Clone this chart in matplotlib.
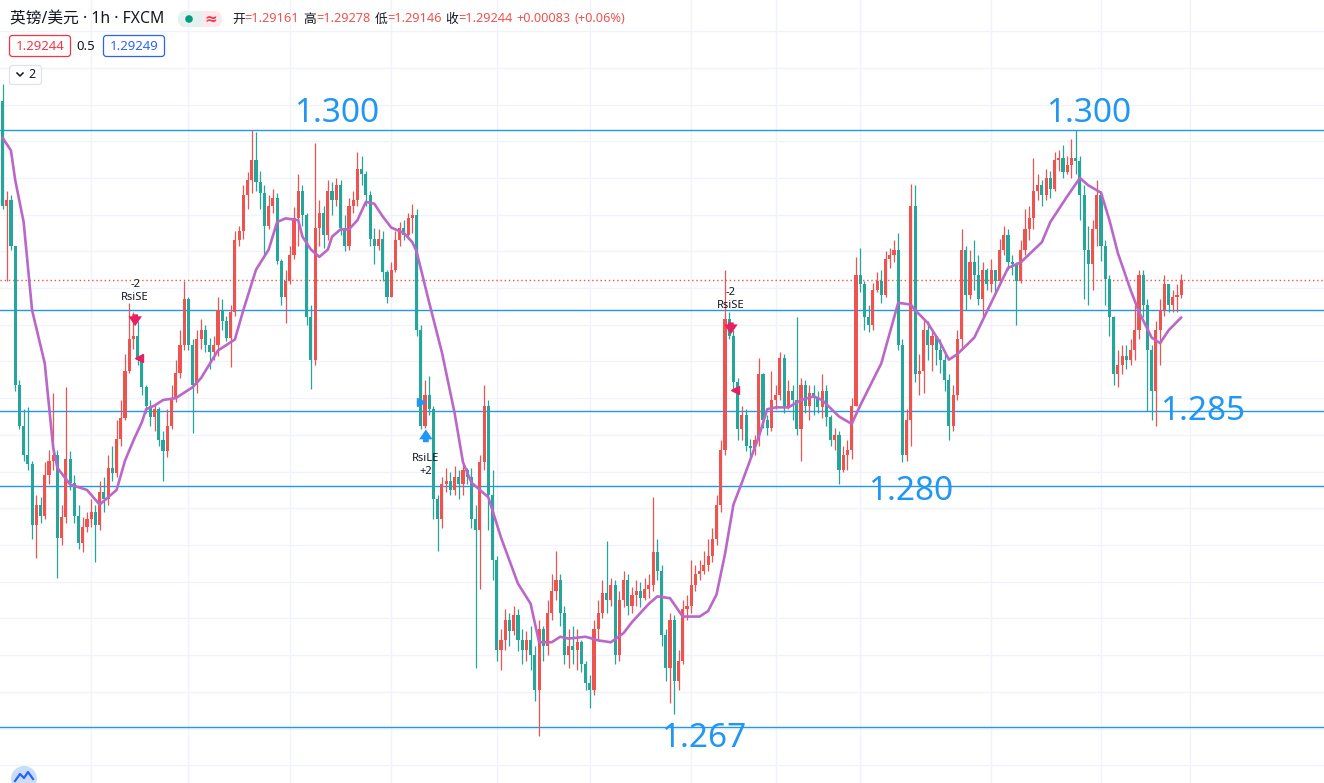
import numpy as np
import matplotlib.pyplot as plt
from matplotlib.patches import FancyBboxPatch, Circle, Rectangle

W, H = 1324, 783
CJK = ['Noto Sans CJK SC', 'DejaVu Sans']
LATIN_FIRST = ['Noto Sans', 'Noto Sans CJK SC', 'DejaVu Sans']
plt.rcParams['font.family'] = CJK

# GBP/USD 1h bars, prices in pips (1e-4) above 1.0000, e.g. 2924 -> 1.2924
open_first = 3022
close_pips = [
    2965, 2968, 2943, 2867, 2845, 2829, 2824, 2791, 2802, 2796,
    2818, 2826, 2829, 2784, 2795, 2827, 2814, 2796, 2781, 2790,
    2794, 2798, 2791, 2809, 2805, 2822, 2819, 2838, 2849, 2875,
    2892, 2894, 2881, 2866, 2856, 2850, 2854, 2837, 2831, 2845,
    2860, 2874, 2889, 2914, 2889, 2867, 2892, 2897, 2889, 2885,
    2889, 2908, 2902, 2893, 2907, 2946, 2951, 2971, 2979, 2990,
    2978, 2972, 2954, 2965, 2969, 2935, 2915, 2924, 2938, 2958,
    2973, 2960, 2904, 2881, 2953, 2961, 2949, 2973, 2968, 2976,
    2953, 2943, 2965, 2968, 2985, 2982, 2971, 2947, 2943, 2947,
    2929, 2915, 2930, 2946, 2953, 2949, 2958, 2960, 2897, 2845,
    2862, 2854, 2805, 2794, 2813, 2815, 2810, 2817, 2813, 2821,
    2817, 2794, 2788, 2825, 2856, 2807, 2772, 2723, 2728, 2739,
    2733, 2742, 2728, 2723, 2728, 2720, 2701, 2734, 2725, 2743,
    2755, 2761, 2743, 2720, 2725, 2723, 2727, 2715, 2705, 2701,
    2734, 2743, 2754, 2750, 2758, 2720, 2750, 2761, 2747, 2753,
    2755, 2751, 2756, 2758, 2776, 2766, 2731, 2713, 2739, 2706,
    2717, 2745, 2747, 2758, 2764, 2766, 2769, 2774, 2783, 2802,
    2832, 2903, 2894, 2869, 2843, 2851, 2834, 2833, 2837, 2873,
    2848, 2844, 2859, 2862, 2882, 2856, 2864, 2859, 2843, 2867,
    2856, 2863, 2860, 2855, 2864, 2850, 2837, 2840, 2821, 2829,
    2832, 2856, 2927, 2922, 2904, 2900, 2919, 2924, 2916, 2936,
    2938, 2941, 2889, 2829, 2848, 2965, 2873, 2875, 2897, 2889,
    2894, 2886, 2881, 2870, 2845, 2862, 2892, 2941, 2916, 2934,
    2927, 2914, 2930, 2922, 2930, 2924, 2941, 2949, 2934, 2933,
    2924, 2941, 2952, 2958, 2973, 2976, 2971, 2980, 2974, 2990,
    2991, 2983, 2987, 2991, 2989, 2971, 2941, 2933, 2952, 2971,
    2943, 2925, 2904, 2873, 2878, 2883, 2881, 2886, 2897, 2927,
    2911, 2886, 2864, 2897, 2908, 2922, 2911, 2915, 2916.1, 2924.4,
]
high_pips = [
    3031, 2973, 2971, 2943, 2870, 2854, 2855, 2826, 2807, 2806,
    2825, 2832, 2863, 2832, 2802, 2866, 2831, 2818, 2802, 2795,
    2798, 2805, 2802, 2815, 2817, 2829, 2834, 2848, 2859, 2884,
    2912, 2907, 2902, 2884, 2867, 2859, 2857, 2855, 2842, 2854,
    2867, 2881, 2897, 2924, 2915, 2892, 2897, 2903, 2900, 2893,
    2894, 2915, 2914, 2905, 2911, 2951, 2954, 2976, 2983, 3006,
    3005, 2984, 2976, 2971, 2974, 2972, 2936, 2930, 2943, 2964,
    2982, 2976, 2961, 2911, 2999, 2968, 2965, 2979, 2978, 2980,
    2979, 2960, 2969, 2973, 2994, 2992, 2984, 2973, 2953, 2952,
    2951, 2930, 2934, 2951, 2956, 2957, 2961, 2966, 2963, 2900,
    2870, 2872, 2856, 2807, 2817, 2822, 2820, 2823, 2821, 2824,
    2822, 2822, 2802, 2829, 2867, 2859, 2821, 2774, 2734, 2745,
    2743, 2747, 2745, 2734, 2733, 2736, 2725, 2739, 2736, 2750,
    2764, 2777, 2764, 2747, 2734, 2736, 2734, 2728, 2717, 2709,
    2739, 2750, 2761, 2782, 2762, 2761, 2755, 2766, 2764, 2757,
    2761, 2760, 2762, 2764, 2806, 2783, 2769, 2734, 2743, 2742,
    2723, 2750, 2753, 2772, 2769, 2772, 2777, 2783, 2789, 2807,
    2837, 2930, 2907, 2897, 2871, 2856, 2854, 2838, 2840, 2882,
    2874, 2851, 2875, 2867, 2885, 2884, 2870, 2867, 2904, 2871,
    2870, 2867, 2867, 2864, 2873, 2867, 2851, 2844, 2842, 2834,
    2837, 2860, 2937, 2942, 2924, 2911, 2923, 2929, 2930, 2940,
    2942, 2946, 2950, 2892, 2854, 2977, 2976, 2884, 2903, 2902,
    2897, 2894, 2892, 2884, 2873, 2867, 2897, 2952, 2943, 2941,
    2946, 2938, 2934, 2931, 2936, 2930, 2947, 2954, 2952, 2938,
    2934, 2946, 2963, 2965, 2991, 2982, 2979, 2985, 2984, 2994,
    2995, 2998, 2992, 3001, 3006, 2992, 2976, 2954, 2957, 2979,
    2973, 2946, 2927, 2905, 2886, 2889, 2889, 2892, 2911, 2930,
    2930, 2914, 2889, 2902, 2914, 2927, 2922, 2919, 2922, 2927.8,
]
low_pips = [
    2963, 2924, 2941, 2864, 2843, 2826, 2821, 2783, 2773, 2792,
    2794, 2813, 2821, 2762, 2780, 2792, 2810, 2792, 2778, 2776,
    2787, 2790, 2771, 2788, 2798, 2802, 2815, 2817, 2834, 2848,
    2874, 2887, 2878, 2862, 2852, 2845, 2842, 2834, 2815, 2828,
    2843, 2858, 2871, 2886, 2886, 2841, 2863, 2887, 2885, 2876,
    2881, 2883, 2897, 2891, 2877, 2905, 2943, 2947, 2963, 2972,
    2973, 2963, 2938, 2952, 2961, 2933, 2911, 2901, 2922, 2936,
    2943, 2954, 2900, 2865, 2878, 2943, 2942, 2946, 2960, 2965,
    2949, 2940, 2941, 2961, 2965, 2976, 2965, 2943, 2933, 2941,
    2924, 2912, 2915, 2929, 2943, 2946, 2947, 2950, 2894, 2843,
    2844, 2851, 2794, 2777, 2789, 2809, 2807, 2807, 2805, 2807,
    2813, 2789, 2713, 2756, 2821, 2788, 2761, 2717, 2712, 2723,
    2725, 2731, 2722, 2715, 2717, 2712, 2695, 2676, 2717, 2720,
    2739, 2750, 2736, 2715, 2713, 2715, 2712, 2711, 2701, 2691,
    2698, 2728, 2740, 2743, 2747, 2715, 2717, 2746, 2742, 2743,
    2747, 2746, 2750, 2751, 2755, 2761, 2725, 2706, 2694, 2688,
    2701, 2715, 2739, 2743, 2755, 2761, 2764, 2766, 2771, 2780,
    2798, 2829, 2892, 2864, 2837, 2837, 2831, 2828, 2829, 2834,
    2844, 2840, 2842, 2854, 2859, 2852, 2854, 2848, 2840, 2826,
    2852, 2848, 2851, 2852, 2849, 2845, 2834, 2832, 2813, 2820,
    2821, 2827, 2856, 2918, 2897, 2896, 2897, 2918, 2912, 2915,
    2931, 2934, 2886, 2825, 2826, 2834, 2869, 2862, 2863, 2881,
    2875, 2878, 2874, 2864, 2837, 2842, 2859, 2886, 2908, 2914,
    2919, 2911, 2905, 2919, 2918, 2916, 2922, 2938, 2930, 2927,
    2900, 2923, 2938, 2946, 2952, 2968, 2965, 2968, 2969, 2973,
    2984, 2980, 2982, 2980, 2982, 2957, 2914, 2911, 2919, 2943,
    2935, 2911, 2894, 2867, 2866, 2873, 2876, 2878, 2881, 2892,
    2904, 2853, 2848, 2845, 2878, 2905, 2907, 2907, 2907, 2914.6,
]

# purple moving average at selected bars
ma_bars = [0, 2, 3, 5, 7, 10, 12, 13, 16, 20, 23, 25, 27, 29, 31, 33, 34, 36, 38, 41,
           45, 47, 51, 55, 57, 60, 63, 65, 67, 70, 71, 73, 75, 77, 78, 80, 82, 84, 86, 88,
           90, 92, 95, 97, 98, 101, 104, 107, 109, 111, 115, 118, 122, 125, 127, 130, 132,
           134, 138, 141, 144, 147, 149, 153, 155, 158, 161, 165, 167, 169, 171, 173, 175,
           179, 181, 183, 186, 189, 192, 194, 198, 201, 203, 208, 212, 215, 216, 219, 222,
           224, 226, 230, 234, 238, 241, 246, 248, 252, 255, 257, 260, 262, 264, 267, 269,
           272, 274, 276, 279]
ma_pips = [3002, 2995, 2979, 2956, 2908, 2879, 2833, 2822, 2813, 2810, 2802, 2806, 2810,
           2826, 2837, 2847, 2854, 2856, 2859, 2860, 2866, 2871, 2886, 2892, 2908, 2930,
           2941, 2956, 2958, 2957, 2948, 2941, 2937, 2941, 2948, 2952, 2952, 2957, 2967,
           2966, 2959, 2953, 2950, 2945, 2940, 2912, 2885, 2852, 2825, 2814, 2806, 2784,
           2759, 2748, 2727, 2727, 2730, 2729, 2730, 2728, 2727, 2732, 2738, 2748, 2752,
           2751, 2741, 2741, 2744, 2753, 2775, 2802, 2814, 2839, 2854, 2855, 2855, 2859,
           2861, 2859, 2850, 2846, 2856, 2879, 2912, 2911, 2908, 2901, 2890, 2881, 2884,
           2893, 2912, 2931, 2934, 2945, 2956, 2970, 2980, 2976, 2972, 2957, 2939, 2919,
           2907, 2893, 2890, 2897, 2904]

levels = [1.30061, 1.29081, 1.28530, 1.28121, 1.26808]
level_labels = [('1.300', 79, 1.30154), ('1.300', 257, 1.30154), ('1.285', 284, 1.28525),
                ('1.280', 215, 1.28094), ('1.267', 166, 1.26748)]
grid_bars = [21, 44, 68, 92, 117, 139, 163, 183, 203, 234, 260, 281]

legend_vals = [('开', '=1.29161'), ('高', '=1.29278'), ('低', '=1.29146'),
               ('收', '=1.29244'), ('', '+0.00083'), ('', '(+0.06%)')]

UP, DOWN = '#EF5350', '#26A69A'
BLUE = '#2196F3'
SIGNAL_RED = '#E91E63'
ARROW = 'simple,head_width=0.75,head_length=0.55,tail_width=0.32'

close = 1 + np.array(close_pips) / 1e4
high = 1 + np.array(high_pips) / 1e4
low = 1 + np.array(low_pips) / 1e4
opens = np.r_[1 + open_first / 1e4, close[:-1]]
bars = np.arange(len(close))
colors = np.where(close >= opens, UP, DOWN)

fig = plt.figure(figsize=(W / 100, H / 100), dpi=100)
ax = fig.add_axes([0, 0, 1, 1])
ax.set_xlim(-2.5 / 4.225, (W - 2.5) / 4.225)
ax.set_ylim(1.26503, 1.30770)
ax.axis('off')

for g in np.arange(1.266, 1.308, 0.002):
    ax.axhline(g, color='#F0F3FA', lw=1, zorder=0)
for g in grid_bars:
    ax.axvline(g, color='#F0F3FA', lw=1, zorder=0)

for lv in levels:
    ax.axhline(lv, color=BLUE, lw=1.0, zorder=1)
ax.axhline(close[-1], color=UP, lw=1, ls=(0, (1, 2)), zorder=1)

ax.vlines(bars, low, high, colors=colors, lw=0.9, zorder=2)
body = np.maximum(np.abs(close - opens), 0.00002)
ax.bar(bars, body, bottom=np.minimum(close, opens), width=0.74, color=colors,
       linewidth=0, zorder=3)

ax.plot(ma_bars, 1 + np.array(ma_pips) / 1e4, color='#BA68C8', lw=1.9, zorder=4,
        solid_joinstyle='round', solid_capstyle='round')

for txt, b, p in level_labels:
    ax.text(b, p, txt, color=BLUE, fontsize=24, ha='center', va='center',
            family=['Noto Sans', 'DejaVu Sans'], zorder=5)


# strategy signals
def short_signal(b, top):
    ax.text(b, top, '-2', fontsize=8, ha='center', va='center', color='#131722', zorder=6,
            family=LATIN_FIRST)
    ax.text(b, top - 0.00072, 'RsiSE', fontsize=8, ha='center', va='center', color='#131722',
            zorder=6, family=LATIN_FIRST)
    ax.annotate('', xy=(b, top - 0.00245), xytext=(b, top - 0.00150),
                arrowprops=dict(arrowstyle=ARROW, color=SIGNAL_RED, lw=0, mutation_scale=13),
                zorder=6)


short_signal(31.4, 1.29222)
ax.plot(32.4, 1.28819, marker='<', color=SIGNAL_RED, ms=5.5, zorder=6)
short_signal(172.4, 1.29178)
ax.plot(173.4, 1.28644, marker='<', color=SIGNAL_RED, ms=5.5, zorder=6)

ax.plot(99.1, 1.28580, marker='>', color=BLUE, ms=5.5, zorder=6)
ax.annotate('', xy=(100.2, 1.28445), xytext=(100.2, 1.28345),
            arrowprops=dict(arrowstyle=ARROW, color=BLUE, lw=0, mutation_scale=13), zorder=6)
ax.text(100.2, 1.28274, 'RsiLE', fontsize=8, ha='center', va='center', color='#131722',
        zorder=6, family=LATIN_FIRST)
ax.text(100.2, 1.28198, '+2', fontsize=8, ha='center', va='center', color='#131722',
        zorder=6, family=LATIN_FIRST)

# header overlay in pixel coordinates
ov = fig.add_axes([0, 0, 1, 1], facecolor='none')
ov.set_xlim(0, W)
ov.set_ylim(H, 0)
ov.axis('off')

ov.text(10, 19, '英镑/美元 · 1h · FXCM', fontsize=11.3, color='#131722', va='center',
        family=LATIN_FIRST)
ov.add_patch(FancyBboxPatch((178, 11), 44, 16, boxstyle='round,pad=0,rounding_size=8',
                            fc='#FDE8EC', ec='none'))
ov.add_patch(FancyBboxPatch((178, 11), 24, 16, boxstyle='round,pad=0,rounding_size=8',
                            fc='#E3F2EF', ec='none'))
ov.add_patch(Rectangle((194, 11), 8, 16, fc='#E3F2EF', ec='none'))
ov.add_patch(Circle((189, 19), 3.8, fc='#089981', ec='none'))
ov.text(211, 19, '≈', fontsize=11, color='#F23645', ha='center', va='center',
        family=['DejaVu Sans'], fontweight='bold')

fig.canvas.draw()
renderer = fig.canvas.get_renderer()
x = 232
for lab, val in legend_vals:
    for s, c in ((lab, '#131722'), (val, UP)):
        if not s:
            continue
        t = ov.text(x, 19, s, fontsize=9.2, color=c, va='center', family=LATIN_FIRST)
        x += t.get_window_extent(renderer).width
    x += 4

ov.add_patch(FancyBboxPatch((9.5, 35.5), 61, 21, boxstyle='round,pad=0,rounding_size=3',
                            fc='white', ec='#F23645', lw=0.9))
ov.text(40, 46, '1.29244', fontsize=9.5, color='#F23645', ha='center', va='center',
        family=LATIN_FIRST)
ov.text(86, 46, '0.5', fontsize=9.5, color='#131722', ha='center', va='center',
        family=LATIN_FIRST)
ov.add_patch(FancyBboxPatch((103.5, 35.5), 61, 21, boxstyle='round,pad=0,rounding_size=3',
                            fc='white', ec='#2962FF', lw=0.9))
ov.text(134, 46, '1.29249', fontsize=9.5, color='#2962FF', ha='center', va='center',
        family=LATIN_FIRST)

ov.add_patch(FancyBboxPatch((9.5, 65.5), 32, 19, boxstyle='round,pad=0,rounding_size=3',
                            fc='white', ec='#E0E3EB', lw=0.9))
ov.plot([17, 20, 23], [73, 76, 73], color='#131722', lw=1.1)
ov.text(32, 75, '2', fontsize=9, color='#131722', ha='center', va='center',
        family=LATIN_FIRST)

# chart-provider badge, cut off by the bottom edge
ov.add_patch(Circle((24, 779), 13, fc='#C9DDF7', ec='none'))
ov.plot([15, 20, 24, 28, 33], [781, 774, 778, 772, 779], color='#2962FF', lw=1.6,
        solid_joinstyle='round')

fig.savefig('out.png', dpi=100, facecolor='white')
